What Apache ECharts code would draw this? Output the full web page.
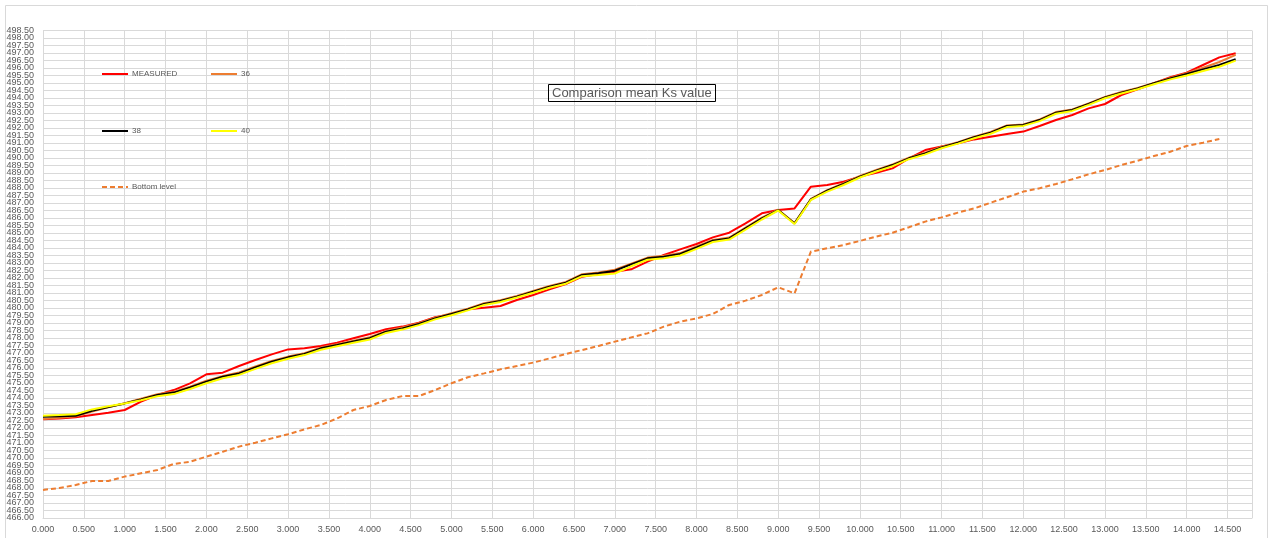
<!DOCTYPE html>
<html>
<head>
<meta charset="utf-8">
<title>Comparison mean Ks value</title>
<script src="https://cdn.jsdelivr.net/npm/echarts@6/dist/echarts.min.js"></script>
<style>
    html, body {margin: 0; padding: 0; background: #fff;}
    #main {width: 1271px; height: 538px;}
</style>
</head>
<body>
<div id="main"></div>
<script>
"use strict";
// distance along the profile (km)
var distance = [0.0, 0.2, 0.4, 0.6, 0.8, 1.0, 1.2, 1.4, 1.6, 1.8, 2.0, 2.2, 2.4, 2.6, 2.8, 3.0, 3.2, 3.4, 3.6, 3.8,
    4.0, 4.2, 4.4, 4.6, 4.8, 5.0, 5.2, 5.4, 5.6, 5.8, 6.0, 6.2, 6.4, 6.6, 6.8, 7.0, 7.2, 7.4, 7.6, 7.8,
    8.0, 8.2, 8.4, 8.6, 8.8, 9.0, 9.2, 9.4, 9.6, 9.8, 10.0, 10.2, 10.4, 10.6, 10.8, 11.0, 11.2, 11.4, 11.6, 11.8,
    12.0, 12.2, 12.4, 12.6, 12.8, 13.0, 13.2, 13.4, 13.6, 13.8, 14.0, 14.2, 14.4, 14.6];

var measured = [472.58, 472.64, 472.71, 472.87, 473.02, 473.20, 473.76, 474.20, 474.53, 474.98, 475.58, 475.69, 476.13, 476.53, 476.91,
    477.24, 477.31, 477.47, 477.69, 477.98, 478.27, 478.58, 478.76, 479.02, 479.38,
    479.58, 479.91, 480.02, 480.13, 480.53, 480.87, 481.24, 481.60, 482.09, 482.27, 482.42, 482.58, 483.09, 483.53, 483.91,
    484.27, 484.71, 485.02, 485.64, 486.31, 486.53, 486.64, 488.09, 488.20,
    488.42, 488.76, 489.02, 489.31, 489.98, 490.53, 490.76, 490.98, 491.24, 491.42, 491.60, 491.76, 492.13, 492.53, 492.87,
    493.31, 493.60, 494.20, 494.58, 494.98, 495.38, 495.69, 496.20, 496.71, 496.98];

var ks36 = [472.60, 472.68, 472.78, 473.10, 473.38, 473.65, 473.95, 474.25, 474.42, 474.76, 475.15, 475.46, 475.70, 476.10, 476.47,
    476.76, 476.98, 477.36, 477.58, 477.82, 478.05, 478.46, 478.70, 478.98, 479.36,
    479.66, 479.96, 480.32, 480.52, 480.81, 481.14, 481.47, 481.74, 482.25, 482.36, 482.55, 482.96, 483.36, 483.48, 483.66,
    484.10, 484.54, 484.70, 485.36, 486.02, 486.55, 485.66, 487.27, 487.86,
    488.32, 488.80, 489.20, 489.57, 490.02, 490.35, 490.75, 491.06, 491.42, 491.74, 492.17, 492.24, 492.57, 493.06, 493.24,
    493.64, 494.07, 494.40, 494.67, 495.01, 495.34, 495.66, 496.02, 496.40, 496.87];

var ks38 = [472.75, 472.78, 472.82, 473.15, 473.40, 473.64, 473.91, 474.20, 474.36, 474.71, 475.09, 475.42, 475.64, 476.04, 476.42,
    476.71, 476.93, 477.31, 477.53, 477.76, 477.98, 478.42, 478.64, 478.93, 479.31,
    479.60, 479.91, 480.27, 480.47, 480.76, 481.09, 481.42, 481.69, 482.20, 482.31, 482.49, 482.91, 483.31, 483.42, 483.60,
    484.04, 484.49, 484.64, 485.31, 485.98, 486.53, 485.64, 487.24, 487.82,
    488.27, 488.76, 489.16, 489.53, 489.98, 490.31, 490.71, 491.02, 491.38, 491.69, 492.13, 492.20, 492.53, 493.02, 493.20,
    493.60, 494.04, 494.36, 494.64, 494.98, 495.31, 495.60, 495.91, 496.20, 496.58];

var ks40 = [472.82, 472.86, 472.92, 473.24, 473.45, 473.64, 473.85, 474.12, 474.26, 474.60, 474.98, 475.32, 475.54, 475.94, 476.32,
    476.62, 476.86, 477.22, 477.45, 477.68, 477.90, 478.34, 478.56, 478.86, 479.24,
    479.52, 479.84, 480.20, 480.40, 480.70, 481.02, 481.35, 481.62, 482.12, 482.20, 482.30, 482.78, 483.22, 483.32, 483.50,
    483.94, 484.40, 484.56, 485.22, 485.90, 486.50, 485.60, 487.20, 487.76,
    488.20, 488.70, 489.10, 489.46, 489.92, 490.24, 490.65, 490.96, 491.32, 491.62, 492.06, 492.14, 492.46, 492.95, 493.14,
    493.54, 493.98, 494.30, 494.58, 494.92, 495.24, 495.50, 495.80, 496.08, 496.49];

// bottom level stops at 14.4
var bottomLevel = [467.87, 468.00, 468.20, 468.47, 468.47, 468.76, 468.98, 469.20, 469.60, 469.75, 470.09, 470.42, 470.76, 471.02, 471.31,
    471.58, 471.91, 472.20, 472.64, 473.20, 473.47, 473.87, 474.13, 474.13, 474.53,
    474.98, 475.38, 475.64, 475.91, 476.13, 476.36, 476.64, 476.93, 477.20, 477.47, 477.76, 478.04, 478.31, 478.76, 479.09,
    479.31, 479.60, 480.20, 480.49, 480.87, 481.38, 480.98, 483.76, 483.98,
    484.20, 484.47, 484.76, 485.02, 485.38, 485.76, 486.04, 486.36, 486.64, 487.02, 487.38, 487.76, 487.98, 488.27, 488.58,
    488.91, 489.20, 489.53, 489.82, 490.13, 490.42, 490.80, 491.02, 491.27];

var seriesNames = ['MEASURED', '36', '38', '40', 'Bottom level'];
var seriesColors = ['#ff0000', '#ed7d31', '#000000', '#ffff00', '#ed7d31'];

function pairs(ys) {
    var out = [];
    for (var i = 0; i < ys.length; i++) {
        out.push([distance[i], ys[i]]);
    }
    return out;
}

var FONT = '"Liberation Sans", Arial, sans-serif';
var labelColor = '#595959';
var gridColor = '#d9d9d9';

function legendAt(name, left, top) {
    return {
        data: [name],
        left: left,
        top: top,
        itemWidth: 26,
        itemHeight: 10,
        padding: 0,
        itemStyle: {opacity: 0},
        textStyle: {fontFamily: FONT, fontSize: 8, color: labelColor, padding: [0, 0, 0, -1]}
    };
}

var lines = [measured, ks36, ks38, ks40, bottomLevel];
var series = [];
for (var k = 0; k < lines.length; k++) {
    series.push({
        name: seriesNames[k],
        type: 'line',
        data: pairs(lines[k]),
        symbol: 'none',
        animation: false,
        color: seriesColors[k],
        lineStyle: {
            width: 2,
            color: seriesColors[k],
            type: k === 4 ? [5, 3] : 'solid',
            cap: 'butt'
        }
    });
}

// echarts drops the label next to min/max when they crowd, so those two
// come from a second, invisible axis laid over the first one
function isNextToEnd(v) {
    return Math.abs(v - 498) < 1e-6 || Math.abs(v - 466.5) < 1e-6;
}

var yLabelStyle = {fontFamily: FONT, fontSize: 9, color: labelColor, margin: 9};

var option = {
    backgroundColor: '#ffffff',
    animation: false,
    title: {
        text: 'Comparison mean Ks value',
        left: 548,
        top: 84,
        padding: [3, 4, 2, 4],
        borderColor: '#000000',
        borderWidth: 1,
        textStyle: {fontFamily: FONT, fontSize: 13, fontWeight: 'normal', color: labelColor}
    },
    legend: [
        legendAt('MEASURED', 101, 70),
        legendAt('36', 210, 70),
        legendAt('38', 101, 127),
        legendAt('40', 210, 127),
        legendAt('Bottom level', 101, 183)
    ],
    graphic: [{
        type: 'rect',
        shape: {x: 5.5, y: 5.5, width: 1262, height: 540},
        style: {fill: 'none', stroke: gridColor, lineWidth: 1},
        silent: true
    }],
    grid: {left: 43, right: 19, top: 30.5, bottom: 20},
    xAxis: {
        type: 'value',
        min: 0,
        max: 14.8,
        interval: 0.5,
        axisLine: {show: true, lineStyle: {color: gridColor}},
        axisTick: {show: false},
        splitLine: {show: true, lineStyle: {color: gridColor, width: 1}},
        axisLabel: {
            fontFamily: FONT, fontSize: 9, color: labelColor, margin: 7,
            showMinLabel: true,
            formatter: function (v) {
                if (Math.abs(v * 2 - Math.round(v * 2)) > 1e-6) return '';
                return v.toFixed(3);
            }
        }
    },
    yAxis: [{
        type: 'value',
        position: 'left',
        min: 466,
        max: 498.5,
        interval: 0.5,
        axisLine: {show: true, lineStyle: {color: gridColor}},
        axisTick: {show: false},
        splitLine: {show: true, lineStyle: {color: gridColor, width: 1}},
        axisLabel: Object.assign({
            showMinLabel: true,
            showMaxLabel: true,
            formatter: function (v) { return isNextToEnd(v) ? '' : v.toFixed(2); }
        }, yLabelStyle)
    }, {
        type: 'value',
        position: 'left',
        offset: 0,
        min: 466,
        max: 498.5,
        interval: 0.5,
        axisLine: {show: false},
        axisTick: {show: false},
        splitLine: {show: false},
        axisLabel: Object.assign({
            showMinLabel: false,
            showMaxLabel: false,
            formatter: function (v) { return isNextToEnd(v) ? v.toFixed(2) : ''; }
        }, yLabelStyle)
    }],
    series: series
};

var chart = echarts.init(document.getElementById('main'), null, {renderer: 'canvas'});
chart.setOption(option);
</script>
</body>
</html>
